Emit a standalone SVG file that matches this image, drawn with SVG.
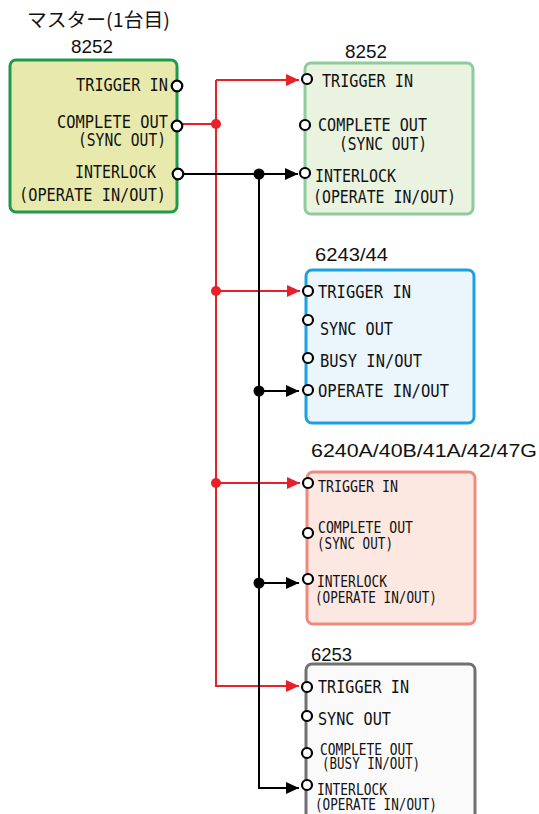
<svg xmlns="http://www.w3.org/2000/svg" width="539" height="814" viewBox="0 0 539 814">
<style>
.t{font-family:"DejaVu Sans Mono","Liberation Mono",monospace;font-size:18px;fill:#111}
.s{font-family:"DejaVu Sans Mono","Liberation Mono",monospace;font-size:16.5px;fill:#111}
.lb{font-family:"Liberation Sans","Noto Sans CJK JP",sans-serif;font-size:18px;fill:#111}
.ttl{font-family:"Noto Sans CJK JP","Liberation Sans",sans-serif;font-size:19px;fill:#111}
.p{fill:#fff;stroke:#000;stroke-width:2.2}
.red{fill:none;stroke:#e8202a;stroke-width:2}
.blk{fill:none;stroke:#000;stroke-width:2}
</style>
<defs>
<marker id="ar" viewBox="0 0 13 12" refX="13" refY="6" markerWidth="13" markerHeight="12" markerUnits="userSpaceOnUse" orient="auto"><path d="M0,0 L13,6 L0,12 z" fill="#e8202a"/></marker>
<marker id="ab" viewBox="0 0 13 12" refX="13" refY="6" markerWidth="13" markerHeight="12" markerUnits="userSpaceOnUse" orient="auto"><path d="M0,0 L13,6 L0,12 z" fill="#000"/></marker>
</defs>
<rect width="539" height="814" fill="#fff"/>
<text class="ttl" x="27" y="27" textLength="143" lengthAdjust="spacingAndGlyphs">マスター(1台目)</text>

<g id="connectors">
<path class="red" d="M183,124 H216"/>
<path class="red" d="M216,80 V686 H299" marker-end="url(#ar)"/>
<path class="red" d="M216,80 H299" marker-end="url(#ar)"/>
<path class="red" d="M216,291 H300" marker-end="url(#ar)"/>
<path class="red" d="M216,483 H300" marker-end="url(#ar)"/>
<circle cx="216" cy="124" r="5" fill="#e8202a"/>
<circle cx="216" cy="291" r="5" fill="#e8202a"/>
<circle cx="216" cy="483" r="5" fill="#e8202a"/>
<path class="blk" d="M184,174 H298" marker-end="url(#ab)"/>
<path class="blk" d="M259,174 V788 H299" marker-end="url(#ab)"/>
<path class="blk" d="M259,391 H299" marker-end="url(#ab)"/>
<path class="blk" d="M259,583 H299" marker-end="url(#ab)"/>
<circle cx="259" cy="174" r="5.5" fill="#000"/>
<circle cx="259" cy="391" r="5.5" fill="#000"/>
<circle cx="259" cy="583" r="5.5" fill="#000"/>
</g>

<g id="master">
<text class="lb" x="71" y="53" textLength="42" lengthAdjust="spacingAndGlyphs">8252</text>
<rect x="10" y="60" width="167" height="152" rx="6" fill="#e8eaad" stroke="#1e9a4a" stroke-width="3"/>
<text class="t" x="76" y="90.5" textLength="92" lengthAdjust="spacingAndGlyphs">TRIGGER IN</text>
<text class="t" x="57" y="127.5" textLength="111" lengthAdjust="spacingAndGlyphs">COMPLETE OUT</text>
<text class="t" x="78" y="146" textLength="88" lengthAdjust="spacingAndGlyphs">(SYNC OUT)</text>
<text class="t" x="75" y="178" textLength="81" lengthAdjust="spacingAndGlyphs">INTERLOCK</text>
<text class="t" x="19" y="201" textLength="147" lengthAdjust="spacingAndGlyphs">(OPERATE IN/OUT)</text>
<circle class="p" cx="177" cy="86" r="5.3"/>
<circle class="p" cx="177" cy="126" r="5.3"/>
<circle class="p" cx="178" cy="174" r="5.3"/>
</g>

<g id="slave8252">
<text class="lb" x="345" y="58" textLength="42" lengthAdjust="spacingAndGlyphs">8252</text>
<rect x="305" y="63" width="168" height="151" rx="6" fill="#eaf2e0" stroke="#8dcc9c" stroke-width="3"/>
<text class="t" x="322" y="86.5" textLength="91" lengthAdjust="spacingAndGlyphs">TRIGGER IN</text>
<text class="t" x="318" y="130.5" textLength="109" lengthAdjust="spacingAndGlyphs">COMPLETE OUT</text>
<text class="t" x="339" y="150" textLength="88" lengthAdjust="spacingAndGlyphs">(SYNC OUT)</text>
<text class="t" x="315" y="181.5" textLength="81" lengthAdjust="spacingAndGlyphs">INTERLOCK</text>
<text class="t" x="313" y="203" textLength="143" lengthAdjust="spacingAndGlyphs">(OPERATE IN/OUT)</text>
<circle class="p" cx="307" cy="79" r="5"/>
<circle class="p" cx="305" cy="125" r="5"/>
<circle class="p" cx="305" cy="173" r="5"/>
</g>

<g id="m6243">
<text class="lb" x="315" y="260.5" textLength="73" lengthAdjust="spacingAndGlyphs">6243/44</text>
<rect x="306" y="270" width="168" height="153" rx="6" fill="#eaf5fc" stroke="#1ba1e2" stroke-width="3"/>
<text class="t" x="318" y="298" textLength="93" lengthAdjust="spacingAndGlyphs">TRIGGER IN</text>
<text class="t" x="320" y="335" textLength="73" lengthAdjust="spacingAndGlyphs">SYNC OUT</text>
<text class="t" x="320" y="366.5" textLength="102" lengthAdjust="spacingAndGlyphs">BUSY IN/OUT</text>
<text class="t" x="318" y="396.5" textLength="131" lengthAdjust="spacingAndGlyphs">OPERATE IN/OUT</text>
<circle class="p" cx="308" cy="291" r="5"/>
<circle class="p" cx="308" cy="320" r="5"/>
<circle class="p" cx="308" cy="358" r="5"/>
<circle class="p" cx="308" cy="390" r="5"/>
</g>

<g id="m6240">
<text class="lb" x="311" y="456.5" textLength="226" lengthAdjust="spacingAndGlyphs">6240A/40B/41A/42/47G</text>
<rect x="307" y="472" width="168" height="152" rx="6" fill="#fce7e1" stroke="#f08a7e" stroke-width="3"/>
<text class="s" x="318" y="491.5" textLength="80" lengthAdjust="spacingAndGlyphs">TRIGGER IN</text>
<text class="s" x="318" y="533" textLength="95" lengthAdjust="spacingAndGlyphs">COMPLETE OUT</text>
<text class="s" x="317" y="549" textLength="76" lengthAdjust="spacingAndGlyphs">(SYNC OUT)</text>
<text class="s" x="317" y="586.5" textLength="70" lengthAdjust="spacingAndGlyphs">INTERLOCK</text>
<text class="s" x="315" y="602.5" textLength="122" lengthAdjust="spacingAndGlyphs">(OPERATE IN/OUT)</text>
<circle class="p" cx="308" cy="483" r="5"/>
<circle class="p" cx="308" cy="533" r="5"/>
<circle class="p" cx="308" cy="579" r="5"/>
</g>

<g id="m6253">
<text class="lb" x="311" y="660.5" textLength="41" lengthAdjust="spacingAndGlyphs">6253</text>
<rect x="306" y="664" width="169" height="165" rx="6" fill="#fafafa" stroke="#707070" stroke-width="3"/>
<text class="t" x="318" y="693" textLength="91" lengthAdjust="spacingAndGlyphs">TRIGGER IN</text>
<text class="t" x="318" y="725" textLength="73" lengthAdjust="spacingAndGlyphs">SYNC OUT</text>
<text class="s" x="320" y="755" textLength="93" lengthAdjust="spacingAndGlyphs">COMPLETE OUT</text>
<text class="s" x="322" y="769" textLength="98" lengthAdjust="spacingAndGlyphs">(BUSY IN/OUT)</text>
<text class="s" x="317" y="795" textLength="70" lengthAdjust="spacingAndGlyphs">INTERLOCK</text>
<text class="s" x="315" y="809.5" textLength="122" lengthAdjust="spacingAndGlyphs">(OPERATE IN/OUT)</text>
<circle class="p" cx="307" cy="687" r="5"/>
<circle class="p" cx="307" cy="716" r="5"/>
<circle class="p" cx="307" cy="753" r="5"/>
<circle class="p" cx="307" cy="785" r="5"/>
</g>
</svg>
